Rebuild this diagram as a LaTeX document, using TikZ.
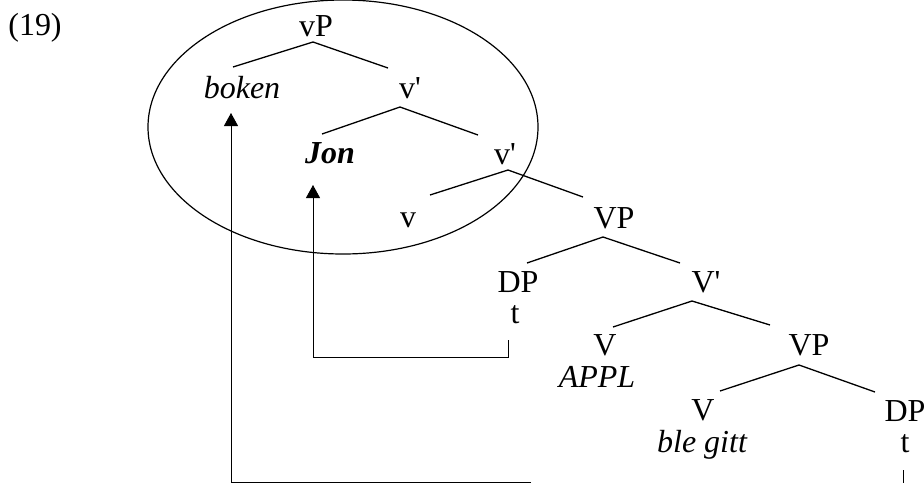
\documentclass[tikz,border=0pt]{standalone}
\usepackage{fontspec}
\setmainfont{Liberation Serif}
\usetikzlibrary{arrows.meta}

\begin{document}
\begin{tikzpicture}[x=1pt, y=-1pt,
  lbl/.style={inner sep=0pt, anchor=base, font=\fontsize{32}{38}\selectfont},
  branch/.style={line width=1.3pt},
  move/.style={line width=0.9pt, >={Triangle[width=14pt,length=13pt]}}]
\useasboundingbox (0,0) rectangle (924,483);
% example number
\node[lbl] (ex) at (35,35) {(19)};
% tree labels
\node[lbl] (vP) at (316,36) {vP};
\node[lbl] (boken) at (242,98) {\itshape boken};
\node[lbl] (vbarA) at (410,98) {v\textquotesingle};
\node[lbl] (Jon) at (330,163) {\bfseries\itshape Jon};
\node[lbl] (vbarB) at (505,164) {v\textquotesingle};
\node[lbl] (v) at (408,227) {v};
\node[lbl] (VPA) at (614,228) {VP};
\node[lbl] (DPA) at (518,292) {DP};
\node[lbl] (tA) at (515,323) {t};
\node[lbl] (Vbar) at (706,292) {V\textquotesingle};
\node[lbl] (Vappl) at (605,355) {V};
\node[lbl] (appl) at (597,387) {\itshape APPL};
\node[lbl] (VPB) at (809,355) {VP};
\node[lbl] (Vgitt) at (703,420) {V};
\node[lbl] (gitt) at (702,452) {\itshape ble gitt};
\node[lbl] (DPB) at (905,421) {DP};
\node[lbl] (tB) at (905,452) {t};
% branch ends
\coordinate (vPa) at (313,42);   \coordinate (vPl) at (233,67);   \coordinate (vPr) at (388,68);
\coordinate (vbarAa) at (400,107); \coordinate (vbarAl) at (322,134); \coordinate (vbarAr) at (478,135);
\coordinate (vbarBa) at (508,170); \coordinate (vbarBl) at (430,195); \coordinate (vbarBr) at (583,197);
\coordinate (VPAa) at (603,237); \coordinate (VPAl) at (527,263); \coordinate (VPAr) at (680,263);
\coordinate (Vbara) at (692,301); \coordinate (Vbarl) at (613,327); \coordinate (Vbarr) at (770,325);
\coordinate (VPBa) at (799,365); \coordinate (VPBl) at (720,391); \coordinate (VPBr) at (875,392);
\draw[branch] (vPl) -- (vPa) -- (vPr);
\draw[branch] (vbarAl) -- (vbarAa) -- (vbarAr);
\draw[branch] (vbarBl) -- (vbarBa) -- (vbarBr);
\draw[branch] (VPAl) -- (VPAa) -- (VPAr);
\draw[branch] (Vbarl) -- (Vbara) -- (Vbarr);
\draw[branch] (VPBl) -- (VPBa) -- (VPBr);
% circled part
\draw[line width=1.2pt] (343,127) ellipse [x radius=195pt, y radius=127pt];
% movement of Jon
\coordinate (tAend) at (508,340);
\coordinate (JonTip) at (313,185);
\draw[move, ->] (tAend) -- (508,357) -- (313,357) -- (JonTip);
% movement of boken
\coordinate (bokenFoot) at (531,482);
\coordinate (bokenTip) at (231,113);
\draw[move, ->] (bokenFoot) -- (231,482) -- (bokenTip);
\coordinate (tBtop) at (903,470);
\coordinate (tBend) at (903,483);
\draw[move] (tBtop) -- (tBend);
\end{tikzpicture}
\end{document}
